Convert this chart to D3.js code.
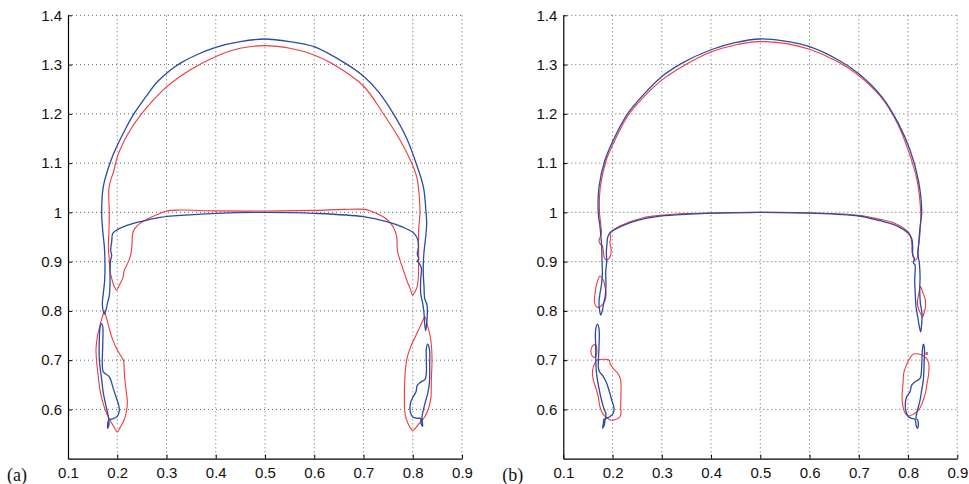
<!DOCTYPE html>
<html>
<head>
<meta charset="utf-8">
<script src="https://cdn.jsdelivr.net/npm/d3@7"></script>
<style>
  body { margin: 0; background: #fff; }
</style>
</head>
<body>
<svg id="chart" width="969" height="484"></svg>
<script>
// Axis ticks and labels
const xTicks = [0.1, 0.2, 0.3, 0.4, 0.5, 0.6, 0.7, 0.8, 0.9];
const xTickLabels = ["0.1", "0.2", "0.3", "0.4", "0.5", "0.6", "0.7", "0.8", "0.9"];
const yTicks = [0.6, 0.7, 0.8, 0.9, 1.0, 1.1, 1.2, 1.3, 1.4];
const yTickLabels = ["0.6", "0.7", "0.8", "0.9", "1", "1.1", "1.2", "1.3", "1.4"];
const panelLabels = ["(a)", "(b)"];

// ---- Panel (a) interfaces ----
const aBlueMain = [
  [0.1738,0.7935],[0.1717,0.7984],[0.1697,0.8153],[0.1717,0.8355],[0.1745,0.863],[0.1751,0.8966],
  [0.1738,0.930],[0.1704,0.964],[0.1684,1.0],[0.1717,1.0521],[0.1853,1.1002],[0.1988,1.1333],
  [0.2191,1.1739],[0.234,1.2003],[0.2631,1.2416],[0.28,1.2635],[0.299,1.2815],[0.315,1.294],
  [0.33,1.304],[0.365,1.3215],[0.4,1.335],[0.45,1.3465],[0.4993,1.3519],[0.5508,1.3465],
  [0.5995,1.3364],[0.6624,1.303],[0.6996,1.2768],[0.7301,1.245],[0.7606,1.2003],[0.7876,1.1503],
  [0.8066,1.1002],[0.8215,1.0521],[0.827,1.0],
  [0.8283,0.9776],[0.8256,0.9438],[0.8229,0.9201],[0.8215,0.8964],[0.8215,0.8727],[0.8229,0.849],
  [0.8242,0.8253],[0.829,0.8118],[0.8296,0.7948],[0.8283,0.7745],[0.8262,0.7596],
  [0.8242,0.7745],[0.8229,0.7948],[0.8202,0.8152],[0.8161,0.8355],[0.8161,0.8626],[0.8175,0.8863],
  [0.8134,0.8964],[0.8093,0.9012],[0.812,0.9059],[0.8093,0.9153],[0.8114,0.9303],[0.8093,0.9472],
  [0.8012,0.9587],[0.7809,0.9695],[0.7471,0.981],[0.6997,0.9912],[0.6,0.998],[0.5,1.0],[0.4,0.998],
  [0.3545,0.9954],[0.2868,0.990],[0.2462,0.981],[0.2157,0.972],[0.1988,0.964],[0.1907,0.957],
  [0.1887,0.940],[0.1866,0.923],[0.1887,0.913],[0.1866,0.903],[0.1853,0.883],[0.1853,0.856],
  [0.184,0.832],[0.180,0.8153],[0.1772,0.8017]
];
const aBlueBlobL = [
  [0.1677,0.7745],[0.1704,0.7691],[0.1704,0.7285],[0.1697,0.6879],[0.1717,0.6761],[0.1839,0.6659],
  [0.192,0.6422],[0.1975,0.6253],[0.2022,0.6118],[0.2042,0.5983],[0.2002,0.5862],[0.192,0.5815],
  [0.1853,0.5794],[0.1819,0.5767],[0.1805,0.5618],[0.1832,0.5693],[0.1819,0.5862],[0.1772,0.6065],
  [0.1717,0.6335],[0.1684,0.6606],[0.1656,0.681],[0.1636,0.7013],[0.1636,0.742],[0.165,0.7657]
];
const aBlueBlobR = [
  [0.8303,0.7325],[0.8337,0.7236],[0.8344,0.6864],[0.8337,0.6525],[0.8303,0.6322],[0.8256,0.6153],
  [0.8215,0.5983],[0.8188,0.5848],[0.8195,0.5746],[0.8201,0.5658],[0.8167,0.5713],[0.8161,0.5815],
  [0.8093,0.5821],[0.7999,0.5848],[0.7951,0.595],[0.7951,0.612],[0.7999,0.6242],[0.8066,0.6357],
  [0.8093,0.6493],[0.8161,0.6554],[0.8249,0.6608],[0.8276,0.673],[0.8276,0.70],[0.8276,0.7236]
];
const aRedMain = [
  [0.1988,0.8422],[0.1941,0.849],[0.1887,0.8659],[0.1853,0.883],[0.1839,0.903],[0.1819,0.930],
  [0.1832,0.964],[0.1839,1.0],[0.1832,1.05],[0.1934,1.086],[0.2002,1.113],[0.2225,1.1604],
  [0.2496,1.2003],[0.299,1.2538],[0.3477,1.289],[0.3992,1.3161],[0.4492,1.333],[0.4993,1.3384],
  [0.5508,1.333],[0.5995,1.3195],[0.6387,1.3005],[0.6997,1.2565],[0.7403,1.2003],[0.7741,1.1469],
  [0.7978,1.1002],[0.808,1.0724],[0.8113,1.0521],[0.8147,1.0],[0.812,0.9641],[0.812,0.9032],
  [0.8114,0.8694],[0.8093,0.8504],[0.8046,0.8389],[0.7999,0.8321],[0.7945,0.8457],[0.7877,0.8626],
  [0.7809,0.8829],[0.7741,0.9032],[0.7688,0.9235],[0.7674,0.9506],[0.762,0.9675],[0.7505,0.9831],
  [0.7335,0.9946],[0.7132,1.0034],[0.7031,1.006],[0.66,1.006],[0.6,1.004],[0.5,1.0027],[0.4,1.003],
  [0.3274,1.0047],[0.3003,1.0027],[0.28,0.9952],[0.2597,0.9857],[0.2462,0.9776],[0.236,0.9675],
  [0.2313,0.9573],[0.2299,0.9336],[0.2272,0.9133],[0.2211,0.8964],[0.2144,0.8828],[0.211,0.8659],
  [0.2042,0.8524]
];
const aRedBlobL = [
  [0.1738,0.798],[0.1785,0.7845],[0.1839,0.7642],[0.1887,0.7473],[0.1954,0.7304],[0.2042,0.7134],
  [0.2124,0.6999],[0.2144,0.6728],[0.2171,0.6457],[0.2205,0.6153],[0.2191,0.5983],[0.2137,0.578],
  [0.2056,0.5631],[0.2002,0.5543],[0.1934,0.5645],[0.1853,0.578],[0.1772,0.595],[0.1704,0.6153],
  [0.165,0.639],[0.1616,0.6661],[0.1582,0.6965],[0.1569,0.7236],[0.1596,0.7473],[0.165,0.771],
  [0.1697,0.7879]
];
const aRedBlobR = [
  [0.8249,0.7881],[0.8297,0.771],[0.835,0.7507],[0.8384,0.7236],[0.8391,0.6965],[0.8377,0.6593],
  [0.837,0.6255],[0.833,0.605],[0.8243,0.5848],[0.8127,0.5713],[0.7999,0.5577],[0.7904,0.5713],
  [0.7843,0.5916],[0.783,0.6187],[0.7837,0.6593],[0.7857,0.6864],[0.789,0.7067],[0.7958,0.727],
  [0.8066,0.7507],[0.8161,0.771]
];

// ---- Panel (b) interfaces ----
const bBlueMain = [
  [0.1759,0.7915],[0.1732,0.805],[0.1725,0.8186],[0.1745,0.8355],[0.1779,0.8558],[0.1793,0.8761],
  [0.1786,0.9032],[0.1779,0.9303],[0.1765,0.9506],[0.1745,0.9709],[0.171,1.0],[0.1725,1.052],
  [0.1847,1.1063],[0.2016,1.1469],[0.2287,1.1976],[0.2591,1.2349],[0.2997,1.2755],[0.3403,1.3025],
  [0.3985,1.3296],[0.4486,1.3445],[0.4993,1.3519],[0.55,1.3475],[0.6,1.3364],[0.6585,1.3093],
  [0.7,1.2815],[0.7465,1.2349],[0.7802,1.1807],[0.804,1.1266],[0.8209,1.0656],[0.8277,1.0],
  [0.8244,0.9709],[0.8216,0.937],[0.8203,0.9133],[0.823,0.8964],[0.8244,0.8693],[0.8237,0.8422],
  [0.825,0.8152],[0.8284,0.7948],[0.8277,0.7745],[0.8257,0.7576],[0.823,0.7678],[0.8196,0.7881],
  [0.8162,0.8084],[0.8149,0.8287],[0.8135,0.8626],[0.8142,0.893],[0.8108,0.8978],[0.8128,0.9045],
  [0.8094,0.9154],[0.8094,0.9303],[0.8074,0.9472],[0.8006,0.9574],[0.7904,0.9655],[0.7701,0.9756],
  [0.743,0.983],[0.7,0.9926],[0.6,0.9985],[0.5,1.0],[0.4,0.9985],[0.337,0.9953],[0.2896,0.9912],
  [0.2489,0.9831],[0.2219,0.9736],[0.205,0.9655],[0.1948,0.9587],[0.1901,0.9492],[0.1888,0.937],
  [0.1874,0.9201],[0.1881,0.8998],[0.1861,0.8795],[0.1867,0.8558],[0.1854,0.8321],[0.182,0.8152],
  [0.1786,0.7982]
];
const bBlueBlobL = [
  [0.1692,0.773],[0.1725,0.7642],[0.1725,0.7277],[0.1711,0.687],[0.1732,0.6769],[0.1813,0.6667],
  [0.1881,0.6532],[0.1935,0.6363],[0.1982,0.6194],[0.203,0.6025],[0.2016,0.5923],[0.1948,0.5856],
  [0.1881,0.5822],[0.1826,0.5801],[0.1813,0.572],[0.1799,0.5618],[0.1833,0.5686],[0.1847,0.5774],
  [0.1867,0.5889],[0.1813,0.6058],[0.1759,0.6261],[0.1711,0.6498],[0.1678,0.6701],[0.1664,0.687],
  [0.1657,0.7277],[0.1657,0.7615]
];
const bBlueBlobR = [
  [0.831,0.7326],[0.833,0.7272],[0.8324,0.6867],[0.831,0.6596],[0.8277,0.6393],[0.8244,0.6189],
  [0.821,0.6054],[0.8176,0.5919],[0.8162,0.5818],[0.8196,0.5784],[0.821,0.5683],[0.8189,0.5615],
  [0.8162,0.5683],[0.8142,0.5798],[0.8074,0.5818],[0.8006,0.5852],[0.7959,0.5954],[0.7945,0.6123],
  [0.7972,0.6257],[0.804,0.6359],[0.8074,0.6494],[0.8142,0.6562],[0.8244,0.663],[0.8277,0.6867],
  [0.8291,0.7205]
];
const bRedMain = [
  [0.1881,0.9032],[0.1833,0.9086],[0.1813,0.9201],[0.1793,0.933],[0.1752,0.9357],[0.1725,0.9425],
  [0.1745,0.9492],[0.1772,0.9574],[0.1759,0.9777],[0.1735,1.0],[0.1752,1.052],[0.1874,1.1063],
  [0.205,1.1469],[0.2321,1.1976],[0.2625,1.2335],[0.3038,1.2714],[0.3444,1.2978],[0.3985,1.3249],
  [0.4486,1.3398],[0.4986,1.3465],[0.55,1.343],[0.6,1.331],[0.6585,1.3052],[0.7,1.2775],
  [0.7465,1.2322],[0.779,1.1794],[0.8006,1.1252],[0.8182,1.0656],[0.8257,1.0],[0.825,0.9709],
  [0.823,0.9438],[0.8196,0.9201],[0.8189,0.9086],[0.8149,0.9032],[0.8108,0.9086],[0.8081,0.9201],
  [0.8074,0.9404],[0.8026,0.9574],[0.7918,0.9675],[0.7701,0.979],[0.743,0.9858],[0.7,0.994],
  [0.6,0.999],[0.5,1.0],[0.4,0.9985],[0.3356,0.9973],[0.2963,0.9939],[0.2625,0.9892],[0.2354,0.9811],
  [0.2151,0.9723],[0.2016,0.9641],[0.1948,0.9574],[0.1962,0.9506],[0.1948,0.937],[0.1969,0.9269],
  [0.1962,0.9133],[0.1928,0.9066]
];
const bRedSkirtL = [
  [0.1745,0.8707],[0.1813,0.8626],[0.1847,0.849],[0.1867,0.8355],[0.1847,0.8206],[0.1718,0.8071],
  [0.1664,0.8098],[0.163,0.8186],[0.1644,0.8355],[0.169,0.859]
];
const bRedSkirtR = [
  [0.825,0.8497],[0.8297,0.8382],[0.8345,0.8246],[0.8358,0.8111],[0.8331,0.7976],[0.8291,0.7874],
  [0.8257,0.7942],[0.821,0.8043],[0.8189,0.8179],[0.821,0.8314],[0.823,0.8415]
];
const bRedDropL = [
  [0.1664,0.7306],[0.161,0.7306],[0.157,0.7238],[0.1563,0.715],[0.159,0.7083],[0.1651,0.7056],
  [0.1678,0.7144],[0.1678,0.7238]
];
const bRedBlobL = [
  [0.1678,0.6999],[0.1935,0.6999],[0.1948,0.6931],[0.2016,0.6829],[0.2118,0.6714],[0.2165,0.6593],
  [0.2171,0.6322],[0.2165,0.6051],[0.2171,0.5916],[0.2138,0.5835],[0.205,0.5794],[0.1962,0.5781],
  [0.1881,0.5835],[0.1799,0.5916],[0.1745,0.6051],[0.1711,0.6254],[0.1664,0.6423],[0.161,0.6593],
  [0.159,0.6728],[0.161,0.6864],[0.1657,0.6965]
];
const bRedBlobR = [
  [0.8115,0.7123],[0.8284,0.7103],[0.8372,0.7035],[0.842,0.6934],[0.842,0.6731],[0.8385,0.6528],
  [0.8351,0.6325],[0.8284,0.6122],[0.8216,0.5987],[0.8115,0.5906],[0.8013,0.5865],[0.7945,0.5919],
  [0.7898,0.6054],[0.7878,0.6257],[0.7898,0.6528],[0.7911,0.6731],[0.7965,0.69],[0.8033,0.7035]
];
const bRedDotR = [
  [0.8362,0.7135],[0.8378,0.7158],[0.8394,0.7135],[0.8378,0.7115]
];

const panels = [
  { label: panelLabels[0], left: 68,
    red: [aRedMain, aRedBlobL, aRedBlobR],
    blue: [aBlueMain, aBlueBlobL, aBlueBlobR] },
  { label: panelLabels[1], left: 563.3,
    red: [bRedMain, bRedSkirtL, bRedSkirtR, bRedDropL, bRedBlobL, bRedBlobR, bRedDotR],
    blue: [bBlueMain, bBlueBlobL, bBlueBlobR] }
];

const svg = d3.select("#chart");
const plotW = 394, plotTop = 15.3, plotBottom = 458.7;
const RED = "#ec3a3e", BLUE = "#2b4ba3";
const SANS = "'Liberation Sans', Arial, Helvetica, sans-serif";
const SERIF = "'Liberation Serif', 'Times New Roman', Times, serif";

panels.forEach(p => {
  const x = d3.scaleLinear().domain([0.1, 0.9]).range([p.left, p.left + plotW]);
  const y = d3.scaleLinear().domain([0.5, 1.4]).range([plotBottom, plotTop]);
  const g = svg.append("g");

  // dotted grid
  g.append("g").selectAll("line").data(xTicks.slice(1)).join("line")
    .attr("x1", d => x(d)).attr("x2", d => x(d))
    .attr("y1", plotTop).attr("y2", plotBottom)
    .attr("stroke", "#555").attr("stroke-width", 0.9)
    .attr("stroke-dasharray", "1,3");
  g.append("g").selectAll("line").data(yTicks).join("line")
    .attr("x1", x(0.1)).attr("x2", x(0.9))
    .attr("y1", d => y(d)).attr("y2", d => y(d))
    .attr("stroke", "#555").attr("stroke-width", 0.9)
    .attr("stroke-dasharray", "1,3");

  // interface contours (smooth closed curves through the traced points)
  const line = d3.line().x(d => x(d[0])).y(d => y(d[1]))
    .curve(d3.curveCatmullRomClosed.alpha(0.5));
  g.append("g").selectAll("path").data(p.red).join("path")
    .attr("d", line).attr("fill", "none")
    .attr("stroke", RED).attr("stroke-width", 1.1).attr("stroke-linejoin", "round");
  g.append("g").selectAll("path").data(p.blue).join("path")
    .attr("d", line).attr("fill", "none")
    .attr("stroke", BLUE).attr("stroke-width", 1.3).attr("stroke-linejoin", "round");

  // axes
  const yAxis = d3.axisLeft(y).tickValues(yTicks)
    .tickFormat((d, i) => yTickLabels[i]).tickSizeInner(-4).tickSizeOuter(0).tickPadding(6);
  const xAxis = d3.axisBottom(x).tickValues(xTicks)
    .tickFormat((d, i) => xTickLabels[i]).tickSizeInner(-4).tickSizeOuter(0).tickPadding(9);

  const ya = g.append("g").attr("transform", `translate(${x(0.1)},0)`).call(yAxis);
  const xa = g.append("g").attr("transform", `translate(0,${plotBottom})`).call(xAxis);
  [ya, xa].forEach(a => {
    a.select(".domain").attr("stroke", "#000").attr("stroke-width", 1.2);
    a.selectAll(".tick line").attr("stroke", "#000");
    a.selectAll("text").style("font-size", "15px").style("font-family", SANS).attr("fill", "#111");
  });

  // panel tag
  svg.append("text")
    .attr("x", p.left - 61).attr("y", 481)
    .style("font-family", SERIF).style("font-size", "18px")
    .attr("fill", "#111")
    .text(p.label);
});
</script>
</body>
</html>
